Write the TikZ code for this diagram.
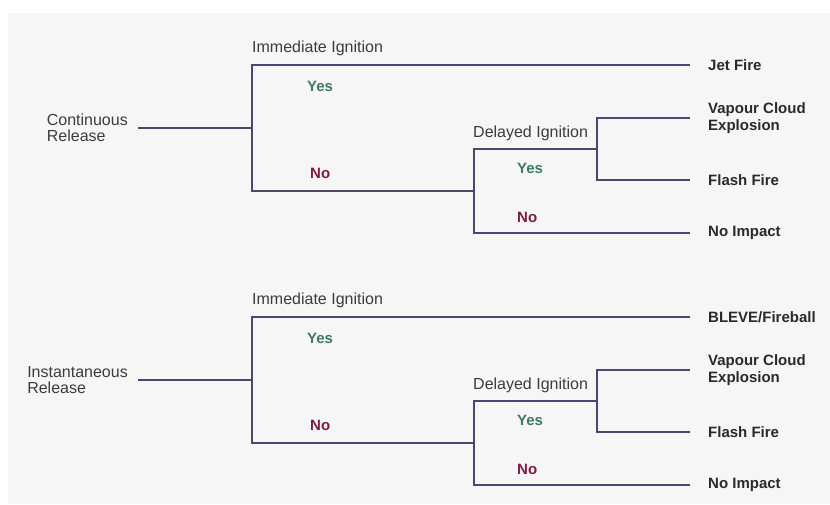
\documentclass[tikz,border=0pt]{standalone}
\usepackage{fontspec}
\setmainfont{Liberation Sans}
\definecolor{branchline}{HTML}{4A4870}
\definecolor{yescol}{HTML}{3F7A63}
\definecolor{nocol}{HTML}{7D1C45}
\definecolor{labelcol}{HTML}{3C3C3C}
\definecolor{outcol}{HTML}{2A2A2A}
\definecolor{panel}{HTML}{F6F6F6}
\begin{document}
\begin{tikzpicture}[x=1pt, y=-1pt,
    branch/.style={draw=branchline, line width=2pt},
    stage/.style={inner sep=0pt, anchor=base west, text=labelcol, font=\fontsize{16}{16}\selectfont},
    source/.style={inner xsep=10pt, inner ysep=0pt, anchor=east, align=left, text=labelcol, font=\fontsize{16}{16}\selectfont},
    outcome/.style={inner xsep=18pt, inner ysep=0pt, anchor=west, align=left, text=outcol, font=\bfseries\fontsize{15}{17}\selectfont},
    yeslbl/.style={inner sep=0pt, anchor=base west, text=yescol, font=\bfseries\fontsize{15}{15}\selectfont},
    nolbl/.style={inner sep=0pt, anchor=base west, text=nocol, font=\bfseries\fontsize{15}{15}\selectfont}]

  % Canvas and grey panel
  \useasboundingbox (0,0) rectangle (830,504);
  \fill[white] (0,0) rectangle (830,504);
  \fill[panel] (8,13) rectangle (830,504);

  % One event tree per release type, shifted down by \dy
  \foreach \dy/\src/\top/\t in {0/{Continuous\\Release}/{Jet Fire}/c,
                                252/{Instantaneous\\Release}/{BLEVE/Fireball}/i} {
    % Source and junction points
    \node[source] (src\t) at (138,128+\dy) {\src};
    \coordinate (imm\t) at (252,128+\dy);
    \coordinate (del\t) at (474,191+\dy);
    \coordinate (dly\t) at (597,149+\dy);

    % Outcomes
    \node[outcome] (top\t) at (690,65+\dy) {\top};
    \node[outcome] (vce\t) at (690,118+\dy) {Vapour Cloud\\Explosion};
    \node[outcome] (ff\t) at (690,180+\dy) {Flash Fire};
    \node[outcome] (ni\t) at (690,233+\dy) {No Impact};

    % Branch labels
    \node[stage] (ii\t) at (252,52+\dy) {Immediate Ignition};
    \node[yeslbl] (iy\t) at (307,91+\dy) {Yes};
    \node[nolbl] (in\t) at (310,178+\dy) {No};
    \node[stage] (di\t) at (473,137.5+\dy) {Delayed Ignition};
    \node[yeslbl] (dy\t) at (517,173+\dy) {Yes};
    \node[nolbl] (dn\t) at (517,222+\dy) {No};

    % Branches
    \draw[branch] (src\t.east) -- (imm\t);
    \draw[branch] (imm\t) |- (top\t.west);
    \draw[branch] (imm\t) |- (del\t);
    \draw[branch] (del\t) |- (ni\t.west);
    \draw[branch] (del\t) |- (dly\t);
    \draw[branch] (dly\t) |- (vce\t.west);
    \draw[branch] (dly\t) |- (ff\t.west);
  }
\end{tikzpicture}
\end{document}
